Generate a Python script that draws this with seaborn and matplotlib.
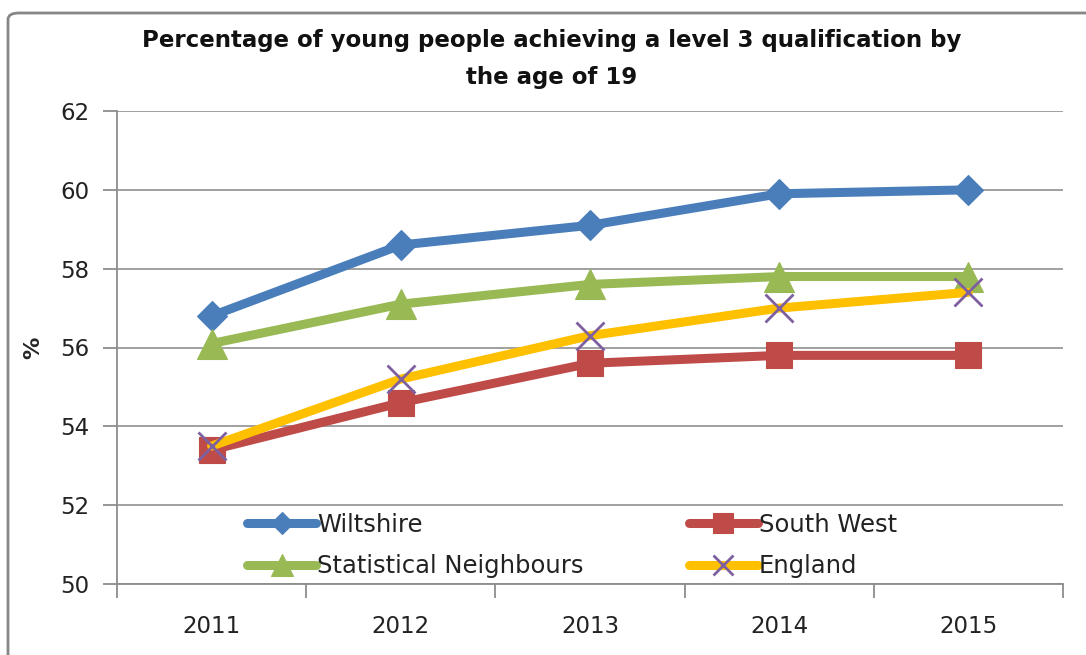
import pandas as pd
import matplotlib.pyplot as plt
import seaborn as sns
from matplotlib.patches import FancyBboxPatch
from matplotlib.ticker import FixedLocator

# -------------------------------
# DATA
# -------------------------------
years = ["2011", "2012", "2013", "2014", "2015"]
wiltshire = [56.8, 58.6, 59.1, 59.9, 60.0]
south_west = [53.4, 54.6, 55.6, 55.8, 55.8]
stat_neighbours = [56.1, 57.1, 57.6, 57.8, 57.8]
england = [53.5, 55.2, 56.3, 57.0, 57.4]

series_names = ["Wiltshire", "South West", "Statistical Neighbours", "England"]
series_values = [wiltshire, south_west, stat_neighbours, england]

colors = ["#4a7ebb", "#be4b48", "#98b954", "#ffc000"]
marker_face = ["#4a7ebb", "#be4b48", "#98b954", "#7e5fa0"]
markers = ["D", "s", "^", "x"]
msizes = [15, 19, 21, 20]

# -------------------------------
# PLOT
# -------------------------------
sns.set_style("white")
plt.rcParams["font.family"] = ["DejaVu Sans"]

fig = plt.figure(figsize=(10.86, 6.55), dpi=100)
ax = fig.add_axes([117 / 1086, 1 - 584 / 655, (1063 - 117) / 1086, (584 - 111) / 655])

# chart frame
frame = FancyBboxPatch((8 / 1086, -0.05), 1.2, 1 - 13 / 655 + 0.05,
                       boxstyle="round,pad=0,rounding_size=0.01",
                       transform=fig.transFigure, fill=False,
                       edgecolor="#868686", linewidth=2, zorder=0)
fig.patches.append(frame)

for i, (name, vals) in enumerate(zip(series_names, series_values)):
    df = pd.DataFrame({"pos": range(len(years)), "value": vals})
    sns.lineplot(data=df, x="pos", y="value", ax=ax, color=colors[i],
                 linewidth=6.5, marker=markers[i], markersize=msizes[i],
                 markerfacecolor=marker_face[i], markeredgecolor=marker_face[i],
                 markeredgewidth=2 if markers[i] == "x" else 0.8,
                 label=name, zorder=3 + i, solid_capstyle="round")

ax.set_xlim(-0.5, len(years) - 0.5)
ax.set_ylim(50, 62)
ax.set_yticks(range(50, 63, 2))
ax.set_xticks(range(len(years)))
ax.set_xticklabels(years)
ax.xaxis.set_minor_locator(FixedLocator([k - 0.5 for k in range(len(years) + 1)]))
ax.tick_params(axis="x", which="major", length=0, pad=22, labelsize=16.5, colors="#222222")
ax.tick_params(axis="x", which="minor", length=10, width=1.3, color="#8c8c8c", direction="out", bottom=True)
ax.tick_params(axis="y", length=10, width=1.3, color="#8c8c8c", direction="out", left=True,
               pad=10, labelsize=16.5, labelcolor="#222222")

ax.grid(axis="y", color="#a0a0a0", linewidth=1.4)
ax.grid(axis="x", visible=False)
ax.set_axisbelow(True)
for side in ["top", "right"]:
    ax.spines[side].set_visible(False)
for side in ["left", "bottom"]:
    ax.spines[side].set_color("#8c8c8c")
    ax.spines[side].set_linewidth(1.3)

ax.set_xlabel("")
ax.set_ylabel("%", fontsize=16, fontweight="bold", labelpad=12)

fig.text(552 / 1086, 1 - 59 / 655,
         "Percentage of young people achieving a level 3 qualification by\nthe age of 19",
         ha="center", va="center", fontsize=16.5, fontweight="bold",
         linespacing=1.75, color="#111111")

# legend: two columns, rows ordered as in the original
h, l = ax.get_legend_handles_labels()
order = [0, 2, 1, 3]
leg = ax.legend([h[k] for k in order], [l[k] for k in order], ncol=2,
                loc="upper left", bbox_to_anchor=(247 / 1086, 1 - 513 / 655),
                bbox_transform=fig.transFigure, frameon=False, fontsize=17.5,
                markerscale=0.75, handlelength=2.85, handletextpad=0.05,
                columnspacing=4.3, labelspacing=0.72, borderpad=0, borderaxespad=0)
for t in leg.get_texts():
    t.set_color("#222222")

fig.savefig("out.png", dpi=100)
